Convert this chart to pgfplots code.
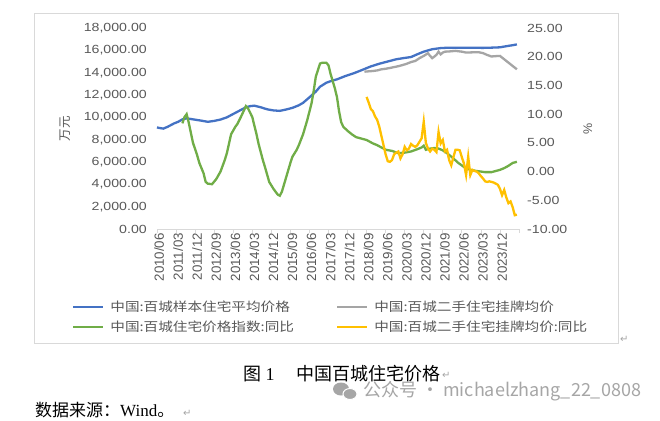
\documentclass[border=0pt]{standalone}
\usepackage{pgfplots}
\pgfplotsset{compat=1.18}
\usepackage{fontspec}
\setmainfont{Liberation Serif}
\newfontfamily\cjkfont{Noto Sans CJK SC}
\newfontfamily\tickfont{Liberation Sans}[FakeStretch=1.2]
\newfontfamily\tickfontplain{Liberation Sans}
\newfontfamily\legfont{Noto Sans CJK SC}[FakeStretch=1.17]
\newfontfamily\symfont{DejaVu Sans}
\definecolor{cblue}{HTML}{4472C4}
\definecolor{cgrey}{HTML}{A5A5A5}
\definecolor{cgreen}{HTML}{70AD47}
\definecolor{cyellow}{HTML}{FFC000}
\definecolor{ctext}{HTML}{595959}
\definecolor{caxis}{HTML}{D9D9D9}
\definecolor{cmark}{HTML}{A6A6A6}

\pgfplotsset{
  myaxis/.style={
    at={(157bp,191bp)}, anchor=south west, scale only axis,
    width=362bp, height=201bp, xmin=0, xmax=171,
    clip=false,
  },
}

\begin{document}
\begin{tikzpicture}[x=1bp,y=1bp]
\useasboundingbox (0,0) rectangle (660,420);
\fill[white] (0,0) rectangle (660,420);
\draw[caxis, line width=0.8bp] (34,77) rectangle (618,407);

\begin{axis}[myaxis,
  ymin=0, ymax=18000,
  axis y line*=left, axis x line*=bottom,
  y axis line style={draw=none},
  x axis line style={draw=caxis, line width=0.8bp},
  xtick={0,9,...,171},
  xticklabels={2010/06,2011/03,2011/12,2012/09,2013/06,2014/03,2014/12,2015/09,2016/06,2017/03,2017/12,2018/09,2019/06,2020/03,2020/12,2021/09,2022/06,2023/03,2023/12,{}},
  ytick={0,2000,...,18000},
  tick align=outside, major tick length=4bp,
  xtick style={draw=caxis, line width=0.8bp},
  ytick style={draw=none},
  scaled y ticks=false,
  yticklabel style={font=\tickfont\fontsize{11.8bp}{12bp}\selectfont, text=ctext, inner sep=0pt, anchor=east, xshift=-6bp,
    /pgf/number format/fixed, /pgf/number format/fixed zerofill, /pgf/number format/precision=2,
    /pgf/number format/1000 sep={,}, /pgf/number format/assume math mode=true},
  xticklabel style={font=\tickfontplain\fontsize{13.3bp}{14bp}\selectfont, text=ctext, xshift=1.5bp, rotate=90, anchor=east, inner sep=0pt, text depth=0pt, yshift=-0.5bp},
  ylabel={万元},
  ylabel style={font=\cjkfont\fontsize{12.5bp}{13bp}\selectfont, text=ctext, at={(axis description cs:-0.254,0.5)}, anchor=center},
]
\addplot[cblue, line width=2.3bp, mark=none] coordinates {
(0,9100) (1,9050) (3,8990) (5,9150) (8,9450) (10,9600) (12,9820) (14,9910) (17,9820) (21,9700) (24,9600) (27,9680) (30,9800) (33,10000) (36,10300) (39,10600) (42,10900) (44,11000) (46,11045) (49,10900) (52,10720) (55,10620) (58,10580) (61,10700) (64,10850) (67,11080) (69,11300) (72,11790) (75,12300) (77,12740) (80,13100) (83,13300) (85,13400) (89,13700) (93,13950) (97,14250) (101,14560) (105,14800) (109,15000) (113,15200) (117,15320) (120,15400) (123,15650) (126,15880) (130,16100) (134,16200) (138,16240) (142,16240) (146,16240) (150,16230) (154,16220) (158,16240) (162,16270) (165,16370) (168,16460) (170,16530)
};
\addplot[cgrey, line width=2.3bp, mark=none] coordinates {
(98,14090) (100,14120) (102,14150) (104,14200) (106,14300) (108,14350) (110,14420) (112,14500) (114,14580) (116,14680) (118,14800) (120,14950) (122,15050) (124,15300) (126,15500) (128,15740) (129,15500) (130,15300) (131,15440) (132,15600) (133,15880) (134,15640) (135,15800) (136,15880) (138,15900) (141,15950) (144,15880) (146,15800) (149,15820) (152,15830) (154,15750) (156,15580) (158,15450) (160,15480) (162,15500) (164,15200) (166,14900) (168,14600) (170,14300)
};
\end{axis}

\begin{axis}[myaxis,
  ymin=-10, ymax=25,
  axis y line*=right, axis x line=none,
  y axis line style={draw=none},
  ytick={-10,-5,...,25},
  ytick style={draw=none},
  yticklabel style={font=\tickfont\fontsize{11.8bp}{12bp}\selectfont, text=ctext, inner sep=0pt, anchor=west, xshift=8bp,
    /pgf/number format/fixed, /pgf/number format/fixed zerofill, /pgf/number format/precision=2,
    /pgf/number format/assume math mode=true},
  ylabel={\%},
  ylabel style={font=\tickfontplain\fontsize{12.5bp}{13bp}\selectfont, text=ctext, at={(axis description cs:1.19,0.5)}, anchor=center},
  legend columns=2,
  legend cell align=left,
  legend style={at={(axis description cs:-0.235,-0.348)}, anchor=north west, draw=none, fill=none, inner sep=0pt,
    font=\legfont\fontsize{12.5bp}{14bp}\selectfont, text=ctext, row sep=4bp,
    /tikz/every even column/.append style={column sep=40bp},
    /tikz/every odd column/.append style={column sep=4bp}},
  legend image code/.code={\draw[#1] (0bp,0bp) -- (30bp,0bp);},
]
\addlegendimage{cblue, line width=2.3bp}
\addlegendentry{中国:百城样本住宅平均价格}
\addlegendimage{cgrey, line width=2.3bp}
\addlegendentry{中国:百城二手住宅挂牌均价}
\addplot[cgreen, line width=2.3bp, mark=none] coordinates {
(12,8.4) (13,9.5) (14,10.0) (15,8.5) (17,5.0) (19,2.8) (20,1.5) (22,-0.3) (23,-1.8) (24,-2.1) (26,-2.2) (28,-1.3) (30,0.0) (32,2.0) (33,3.2) (35,6.5) (37,7.8) (38,8.3) (40,9.8) (42,11.4) (43,11.0) (45,9.5) (47,6.5) (48,4.8) (50,2.0) (51,0.8) (53,-1.8) (55,-3.0) (57,-4.0) (58,-4.2) (59,-3.5) (61,-1.0) (63,1.5) (64,2.6) (66,3.8) (67,4.6) (69,6.5) (71,9.0) (73,11.9) (74,14.0) (75,16.5) (77,18.8) (78,18.95) (80,18.95) (81,18.5) (82,17.0) (84,14.5) (85,13.0) (86,10.5) (87,8.6) (88,7.8) (90,7.1) (92,6.5) (94,6.0) (96,5.8) (99,5.5) (102,4.9) (104,4.6) (106,4.2) (108,3.8) (111,3.6) (114,3.2) (117,3.3) (120,3.5) (123,3.9) (125,4.2) (126,4.5) (127,3.8) (129,4.0) (131,4.1) (133,4.0) (135,3.7) (137,3.2) (140,2.3) (142,1.6) (145,0.8) (148,0.3) (151,0.1) (155,-0.1) (158,-0.1) (160,0.1) (162,0.3) (164,0.6) (166,1.0) (168,1.5) (170,1.7)
};
\addlegendentry{中国:百城住宅价格指数:同比}
\addplot[cyellow, line width=2.3bp, mark=none] coordinates {
(99,13.0) (100,12.0) (101,10.9) (102,10.5) (103,9.6) (104,9.0) (105,7.8) (106,6.2) (107,4.6) (108,3.0) (109,1.8) (110,1.7) (111,2.0) (112,3.0) (113,3.3) (114,3.5) (115,2.3) (116,3.0) (117,4.3) (118,3.7) (119,4.0) (120,4.8) (121,4.5) (122,4.3) (123,4.6) (124,5.2) (125,5.8) (126,8.7) (127,5.0) (128,4.0) (129,3.5) (130,4.0) (131,3.8) (132,3.4) (133,6.9) (134,4.9) (135,5.5) (136,3.5) (137,3.8) (138,2.0) (139,1.1) (140,2.5) (141,3.8) (142,3.8) (143,3.7) (144,2.5) (145,1.4) (146,-0.6) (147,2.6) (148,-0.6) (149,0.3) (150,0.1) (151,0.0) (152,-0.3) (153,-0.8) (154,-1.2) (155,-1.7) (156,-1.8) (157,-1.7) (158,-1.8) (159,-1.9) (160,-2.1) (161,-2.3) (162,-3.0) (163,-4.1) (164,-3.2) (165,-4.5) (166,-5.5) (167,-5.2) (168,-6.2) (169,-7.6) (170,-7.5)
};
\addlegendentry{中国:百城二手住宅挂牌均价:同比}
\end{axis}

% caption and source
\node[anchor=base west, inner sep=0pt, font=\fontsize{18bp}{20bp}\selectfont] at (243,40)
  {{\cjkfont 图} 1\hspace{21.5bp}{\cjkfont 中国百城住宅价格}};
\node[anchor=base west, inner sep=0pt, font=\fontsize{17bp}{20bp}\selectfont] at (35,3.5)
  {{\cjkfont 数据来源：}Wind{\cjkfont 。}};
% watermark
\fill[cmark] (341,31) ellipse [x radius=8, y radius=6.5];
\fill[cmark, draw=white, line width=1bp] (350,26) ellipse [x radius=7, y radius=5.5];
\node[anchor=base west, inner sep=0pt, text=cmark, font=\cjkfont\fontsize{18bp}{20bp}\selectfont] at (363,24)
  {公众号 · michaelzhang\_22\_0808};
% paragraph marks
\node[anchor=base west, inner sep=0pt, text=cmark, font=\symfont\fontsize{10bp}{11bp}\selectfont] at (442,41.5) {↵};
\node[anchor=base west, inner sep=0pt, text=cmark, font=\symfont\fontsize{10bp}{11bp}\selectfont] at (183,3.5) {↵};
\node[anchor=base west, inner sep=0pt, text=cmark, font=\symfont\fontsize{10bp}{11bp}\selectfont] at (620,78) {↵};
\end{tikzpicture}
\end{document}
